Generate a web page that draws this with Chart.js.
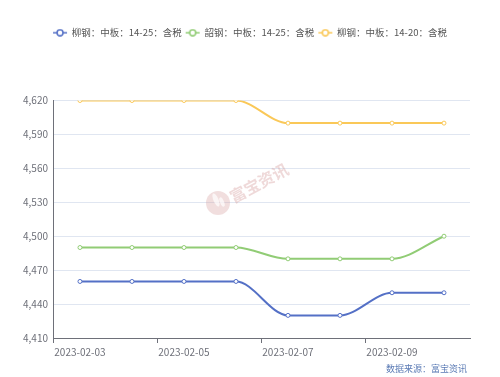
<!DOCTYPE html>
<html>
<head>
<meta charset="utf-8">
<script src="https://cdn.jsdelivr.net/npm/chart.js@4"></script>
<style>
  html, body { margin: 0; padding: 0; background: #fff; }
  #wrap { width: 500px; height: 377px; position: relative; }
</style>
</head>
<body>
<div id="wrap"><canvas id="chart" width="500" height="377"></canvas></div>
<script>
const dates = ['2023-02-03', '2023-02-04', '2023-02-05', '2023-02-06', '2023-02-07', '2023-02-08', '2023-02-09', '2023-02-10'];
const names = ['柳钢：中板：14-25：含税', '韶钢：中板：14-25：含税', '柳钢：中板：14-20：含税'];
const liugang1425 = [4460, 4460, 4460, 4460, 4430, 4430, 4450, 4450];
const shaogang1425 = [4490, 4490, 4490, 4490, 4480, 4480, 4480, 4500];
const liugang1420 = [4620, 4620, 4620, 4620, 4600, 4600, 4600, 4600];
const colors = ['#5470c6', '#91cc75', '#fac858'];

const FONT = '"Noto Sans CJK SC", "Noto Sans", sans-serif';

// legend icon: short line with a hollow circle
function makeIcon(color) {
    const c = document.createElement('canvas');
    c.width = 16; c.height = 8;
    const g = c.getContext('2d');
    g.strokeStyle = color;
    g.lineWidth = 1.5;
    g.beginPath(); g.moveTo(1, 4); g.lineTo(15, 4); g.stroke();
    g.fillStyle = '#fff';
    g.beginPath(); g.arc(8, 4, 3, 0, Math.PI * 2); g.fill(); g.stroke();
    return c;
}
const icons = colors.map(makeIcon);

function makeSet(label, data, color) {
    return {
        label: label,
        data: data,
        borderColor: color,
        backgroundColor: '#fff',
        borderWidth: 2,
        pointRadius: 2,
        pointBorderWidth: 1,
        pointBackgroundColor: '#fff',
        pointBorderColor: color,
        cubicInterpolationMode: 'monotone',
        fill: false
    };
}

// extra space under the legend, and centre it on the whole canvas
const legendMargin = {
    id: 'legendMargin',
    beforeInit(chart) {
        const fit = chart.legend.fit;
        chart.legend.fit = function () {
            fit.bind(chart.legend)();
            this.height += 53;
        };
    },
    beforeDraw(chart) {
        chart.legend.left = 0;
        chart.legend.right = chart.width;
        chart.legend.width = chart.width;
    }
};

const watermark = {
    id: 'watermark',
    beforeDatasetsDraw(chart) {
        const ctx = chart.ctx;
        ctx.save();
        // logo
        ctx.fillStyle = 'rgba(215, 160, 160, 0.35)';
        ctx.beginPath();
        ctx.arc(218, 203, 12, 0, Math.PI * 2);
        ctx.fill();
        ctx.fillStyle = 'rgba(255, 255, 255, 0.7)';
        ctx.beginPath();
        ctx.ellipse(216, 200, 2.5, 7, -0.4, 0, Math.PI * 2);
        ctx.fill();
        ctx.beginPath();
        ctx.ellipse(222, 202, 2, 5, -0.4, 0, Math.PI * 2);
        ctx.fill();
        // name
        ctx.translate(259, 183);
        ctx.rotate(-0.49);
        ctx.font = 'bold 16px ' + FONT;
        ctx.fillStyle = 'rgba(215, 160, 160, 0.4)';
        ctx.textAlign = 'center';
        ctx.textBaseline = 'middle';
        ctx.fillText('富宝资讯', 0, 0);
        ctx.restore();
    },
    afterDraw(chart) {
        const ctx = chart.ctx;
        ctx.save();
        ctx.font = '9px ' + FONT;
        ctx.fillStyle = '#5b7bb5';
        ctx.textAlign = 'right';
        ctx.textBaseline = 'middle';
        ctx.fillText('数据来源：富宝资讯', 467, 369);
        ctx.restore();
    }
};

new Chart(document.getElementById('chart'), {
    type: 'line',
    data: {
        labels: dates,
        datasets: [
            makeSet(names[0], liugang1425, colors[0]),
            makeSet(names[1], shaogang1425, colors[1]),
            makeSet(names[2], liugang1420, colors[2])
        ]
    },
    options: {
        responsive: false,
        animation: false,
        layout: { padding: { left: 17, right: 30, top: 24, bottom: 16 } },
        plugins: {
            legend: {
                position: 'top',
                labels: {
                    usePointStyle: true,
                    pointStyleWidth: 14,
                    boxHeight: 8,
                    padding: 4,
                    color: '#555',
                    font: { family: FONT, size: 9.5 },
                    generateLabels(chart) {
                        const items = Chart.defaults.plugins.legend.labels.generateLabels(chart);
                        items.forEach((it, i) => { it.pointStyle = icons[i]; });
                        return items;
                    }
                }
            },
            tooltip: { enabled: false }
        },
        scales: {
            x: {
                offset: true,
                grid: {
                    offset: true,
                    drawOnChartArea: false,
                    tickLength: 5,
                    color: ctx => ctx.index % 2 === 0 ? '#6e7079' : 'rgba(0,0,0,0)'
                },
                border: { color: '#6e7079' },
                ticks: {
                    autoSkip: false,
                    maxRotation: 0,
                    color: '#6e7079',
                    font: { family: FONT, size: 10 },
                    padding: 3,
                    callback: function (v, i) { return i % 2 === 0 ? this.getLabelForValue(v) : ''; }
                }
            },
            y: {
                min: 4410,
                max: 4620,
                ticks: {
                    stepSize: 30,
                    color: '#6e7079',
                    font: { family: FONT, size: 10 },
                    padding: 6
                },
                grid: { color: '#e0e6f1', drawTicks: false },
                border: { color: '#6e7079' }
            }
        }
    },
    plugins: [legendMargin, watermark]
});
</script>
</body>
</html>
